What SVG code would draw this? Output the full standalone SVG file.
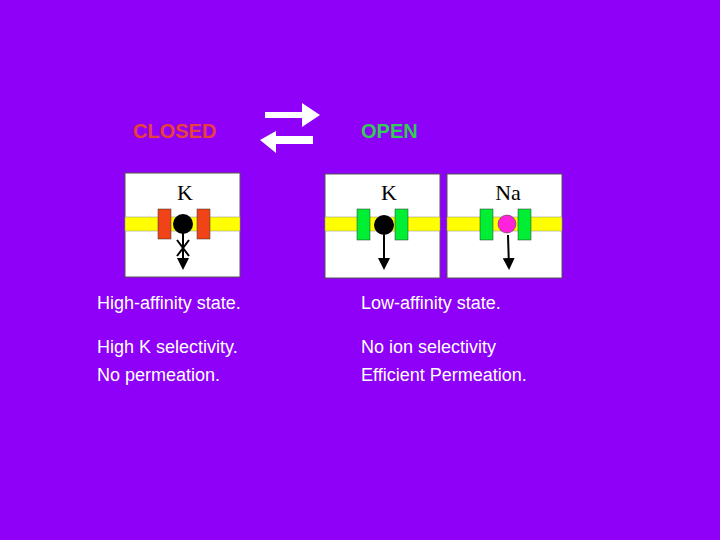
<svg xmlns="http://www.w3.org/2000/svg" width="720" height="540" viewBox="0 0 720 540">
<style>
.t{font-family:"Liberation Sans",Arial,sans-serif;font-size:18px;fill:#fff}
.h{font-family:"Liberation Sans",Arial,sans-serif;font-size:20px;font-weight:bold}
.s{font-family:"Liberation Serif","Times New Roman",serif;font-size:22px;fill:#000}
.box{fill:#fff;stroke:#555;stroke-width:1}
.band{fill:#ffff00;stroke:#888;stroke-width:0.5}
.red{fill:#f04418;stroke:#333;stroke-width:0.5}
.grn{fill:#00ee33;stroke:#333;stroke-width:0.5}
.ar{stroke:#000;stroke-width:2;fill:none}
</style>
<defs><marker id="a" markerWidth="6" markerHeight="6" refX="5" refY="3" orient="auto"><path d="M0,0L6,3L0,6z" fill="#000"/></marker></defs>
<rect width="720" height="540" fill="#8e00f8"/>
<text class="h" x="133" y="138" fill="#e8403a">CLOSED</text>
<text class="h" x="361" y="138" fill="#33cc55">OPEN</text>
<g id="exchange" fill="#fff">
<path d="M265,112H302V103L320,115L302,127V118H265z"/>
<path d="M313,136H276V131L260,140L276,153V144H313z"/>
</g>
<g id="closed-k">
<rect class="box" x="125" y="173" width="115" height="104"/>
<rect class="band" x="125" y="217" width="115" height="14"/>
<rect class="red" x="158" y="209" width="13" height="30"/>
<rect class="red" x="197" y="209" width="13" height="30"/>
<circle cx="183" cy="224" r="10" fill="#000"/>
<text class="s" x="185" y="200" text-anchor="middle">K</text>
</g>
<g id="open-k">
<rect class="box" x="325" y="174" width="115" height="104"/>
<rect class="band" x="325" y="217" width="115" height="14"/>
<rect class="grn" x="357" y="209" width="13" height="31"/>
<rect class="grn" x="395" y="209" width="13" height="31"/>
<circle cx="384" cy="225" r="10" fill="#000"/>
<text class="s" x="389" y="200" text-anchor="middle">K</text>
</g>
<g id="open-na">
<rect class="box" x="447" y="174" width="115" height="104"/>
<rect class="band" x="447" y="217" width="115" height="14"/>
<rect class="grn" x="480" y="209" width="13" height="31"/>
<rect class="grn" x="518" y="209" width="13" height="31"/>
<circle cx="507" cy="224" r="9" fill="#ff22dd" stroke="#333" stroke-width="0.5"/>
<text class="s" x="508" y="200" text-anchor="middle">Na</text>
</g>
<g id="connectors">
<line class="ar" x1="183" y1="233" x2="183" y2="268" marker-end="url(#a)"/>
<path class="ar" d="M177,240L189,256M189,240L177,256" stroke-width="1.5"/>
<line class="ar" x1="384" y1="235" x2="384" y2="268" marker-end="url(#a)"/>
<line class="ar" x1="508" y1="235" x2="509" y2="268" marker-end="url(#a)"/>
</g>
<text class="t" x="97" y="309">High-affinity state.</text>
<text class="t" x="361" y="309">Low-affinity state.</text>
<text class="t" x="97" y="353">High K selectivity.</text>
<text class="t" x="97" y="381">No permeation.</text>
<text class="t" x="361" y="353">No ion selectivity</text>
<text class="t" x="361" y="381">Efficient Permeation.</text>
</svg>
